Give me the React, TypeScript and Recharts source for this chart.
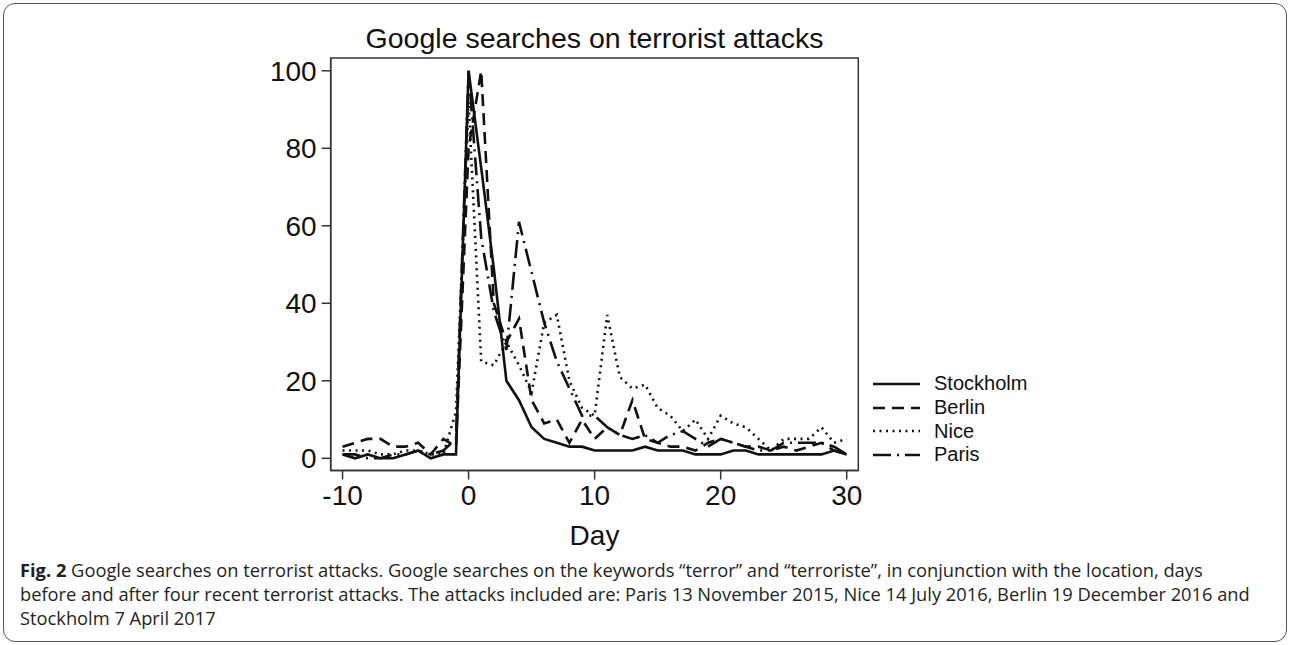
import { LineChart, Line, XAxis, YAxis, Legend, ReferenceArea } from 'recharts'

const days = [
  -10, -9, -8, -7, -6, -5, -4, -3, -2, -1, 0, 1, 2, 3, 4, 5, 6, 7, 8, 9, 10,
  11, 12, 13, 14, 15, 16, 17, 18, 19, 20, 21, 22, 23, 24, 25, 26, 27, 28, 29, 30,
]
const stockholm = [
  1, 0, 1, 0, 0, 1, 2, 0, 1, 1, 100, 75, 49, 20, 15, 8, 5, 4, 3, 3, 2,
  2, 2, 2, 3, 2, 2, 2, 1, 1, 1, 2, 2, 1, 1, 1, 1, 1, 1, 2, 1,
]
const berlin = [
  3, 4, 5, 5, 3, 3, 4, 1, 5, 3, 80, 100, 40, 30, 36, 15, 9, 10, 4, 10, 5,
  8, 6, 15, 5, 4, 3, 3, 2, 4, 5, 4, 3, 3, 2, 3, 2, 3, 4, 2, 1,
]
const nice = [
  2, 2, 2, 1, 1, 2, 2, 1, 1, 12, 92, 25, 24, 30, 24, 17, 35, 37, 20, 13, 11,
  37, 21, 18, 19, 13, 11, 7, 10, 5, 11, 9, 8, 5, 2, 5, 5, 5, 8, 4, 5,
]
const paris = [
  1, 1, 0, 0, 1, 1, 2, 1, 2, 5, 100, 57, 38, 28, 61, 48, 35, 25, 18, 11, 11,
  8, 6, 5, 6, 4, 6, 7, 5, 3, 5, 4, 3, 2, 2, 4, 4, 4, 4, 3, 1,
]
const xTicks = [-10, 0, 10, 20, 30]
const yTicks = [0, 20, 40, 60, 80, 100]

const series = [
  { key: 'Stockholm', dash: undefined as string | undefined },
  { key: 'Berlin', dash: '12 7' },
  { key: 'Nice', dash: '2 4.5' },
  { key: 'Paris', dash: '18 6 2 6' },
]

const data = days.map((d, i) => ({
  day: d,
  Stockholm: stockholm[i],
  Berlin: berlin[i],
  Nice: nice[i],
  Paris: paris[i],
}))

const X_DOMAIN = [-10.94, 30.92]
const Y_DOMAIN = [-3.15, 103.3]
const ink = '#111'
const axisGray = '#333'
const chartFont = '"Liberation Sans", Arial, sans-serif'

function LegendBox({ payload }: any) {
  const entries = [...(payload ?? [])].sort(
    (a: any, b: any) =>
      series.findIndex((s) => s.key === a.value) - series.findIndex((s) => s.key === b.value),
  )
  return (
    <div style={{ fontFamily: chartFont, fontSize: 20, color: ink }}>
      {entries.map((e: any) => {
        const s = series.find((x) => x.key === e.value)
        return (
          <div key={e.value} style={{ display: 'flex', alignItems: 'center', height: 23.7 }}>
            <svg width={49} height={10}>
              <line x1={1} y1={5} x2={48} y2={5} stroke={ink} strokeWidth={2.5} strokeDasharray={s?.dash} />
            </svg>
            <span style={{ marginLeft: 13 }}>{e.value}</span>
          </div>
        )
      })}
    </div>
  )
}

export default function App() {
  return (
    <div
      style={{
        position: 'absolute',
        left: 0,
        top: 0,
        width: 1290,
        height: 645,
        background: '#fff',
        overflow: 'hidden',
      }}
    >
      <div
        style={{
          position: 'absolute',
          left: 3,
          top: 3,
          width: 1282,
          height: 637,
          border: '1.5px solid #555',
          borderRadius: 12,
        }}
      />
      <div
        style={{
          position: 'absolute',
          left: 294.5,
          width: 600,
          top: 20,
          textAlign: 'center',
          fontFamily: chartFont,
          fontSize: 28.5,
          lineHeight: '36px',
          color: ink,
        }}
      >
        Google searches on terrorist attacks
      </div>
      <div style={{ position: 'absolute', left: 0, top: 0 }}>
        <LineChart
          width={1290}
          height={645}
          data={data}
          margin={{ top: 58, left: 250.7, right: 431.7, bottom: 94.5 }}
        >
          <XAxis
            dataKey="day"
            type="number"
            domain={X_DOMAIN}
            ticks={xTicks}
            allowDataOverflow
            height={80}
            tickSize={9}
            tickMargin={6}
            stroke={axisGray}
            strokeWidth={1.5}
            tick={{ fill: ink, fontSize: 28, fontFamily: chartFont }}
            label={{ value: 'Day', position: 'insideBottom', offset: 6, fill: ink, fontSize: 28, fontFamily: chartFont }}
          />
          <YAxis
            type="number"
            domain={Y_DOMAIN}
            ticks={yTicks}
            allowDataOverflow
            width={80}
            tickSize={9}
            tickMargin={5}
            stroke={axisGray}
            strokeWidth={1.5}
            tick={{ fill: ink, fontSize: 28, fontFamily: chartFont }}
          />
          <ReferenceArea
            x1={X_DOMAIN[0]}
            x2={X_DOMAIN[1]}
            y1={Y_DOMAIN[0]}
            y2={Y_DOMAIN[1]}
            fill="none"
            stroke={axisGray}
            strokeWidth={1.5}
          />
          {series.map((s) => (
            <Line
              key={s.key}
              type="linear"
              dataKey={s.key}
              stroke={ink}
              strokeWidth={2.6}
              strokeDasharray={s.dash}
              dot={false}
              activeDot={false}
              isAnimationActive={false}
            />
          ))}
          <Legend
            layout="vertical"
            align="center"
            verticalAlign="middle"
            content={<LegendBox />}
            wrapperStyle={{ left: 872, top: 372, width: 200 }}
          />
        </LineChart>
      </div>
      <div
        style={{
          position: 'absolute',
          left: 20,
          top: 558,
          width: 1260,
          fontFamily: '"Open Sans", "Noto Sans", sans-serif',
          fontSize: 18.3,
          lineHeight: '24px',
          color: '#231f20',
          whiteSpace: 'nowrap',
        }}
      >
        <div>
          <b>Fig. 2</b> Google searches on terrorist attacks. Google searches on the keywords “terror” and
          “terroriste”, in conjunction with the location, days
        </div>
        <div>
          before and after four recent terrorist attacks. The attacks included are: Paris 13 November 2015,
          Nice 14 July 2016, Berlin 19 December 2016 and
        </div>
        <div>Stockholm 7 April 2017</div>
      </div>
    </div>
  )
}
